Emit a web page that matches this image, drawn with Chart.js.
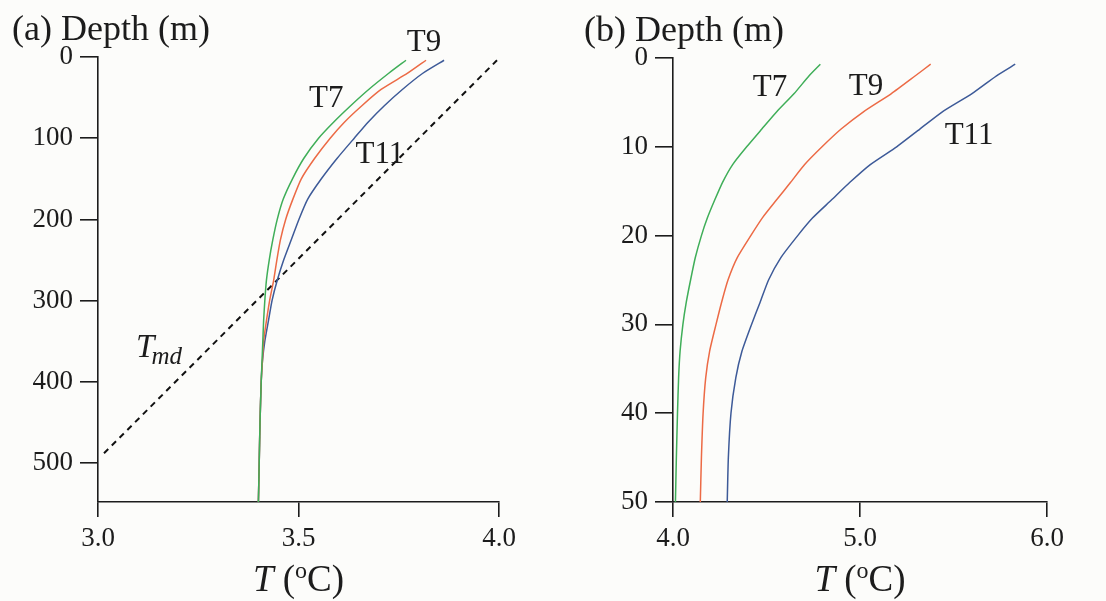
<!DOCTYPE html>
<html>
<head>
<meta charset="utf-8">
<title>Temperature profiles</title>
<script src="https://cdn.jsdelivr.net/npm/chart.js@4.4.1/dist/chart.umd.min.js"></script>
<style>
	html, body { margin: 0; padding: 0; background: #fcfcfa; }
	#wrap { position: relative; width: 1106px; height: 601px; overflow: hidden; }
	canvas { position: absolute; top: 0; }
	#chartA { left: 0; }
	#chartB { left: 540px; }
</style>
</head>
<body>
<div id="wrap">
	<canvas id="chartA" width="540" height="601"></canvas>
	<canvas id="chartB" width="566" height="601"></canvas>
</div>
<script>
// (a) whole column, depth in m
var depthA = [4, 20, 40, 60, 80, 100, 125, 150, 175, 200, 225, 250, 275, 300, 325, 350, 375, 400, 450, 500, 548];
var t7A = [3.768, 3.725, 3.675, 3.630, 3.588, 3.550, 3.513, 3.485, 3.462, 3.447, 3.436, 3.427, 3.420, 3.416, 3.413, 3.411, 3.409, 3.407, 3.404, 3.402, 3.400];
var t9A = [3.818, 3.772, 3.706, 3.658, 3.615, 3.579, 3.540, 3.507, 3.486, 3.468, 3.455, 3.446, 3.438, 3.428, 3.420, 3.413, 3.410, 3.407, 3.404, 3.402, 3.400];
var t11A = [3.863, 3.810, 3.759, 3.714, 3.674, 3.639, 3.596, 3.557, 3.523, 3.501, 3.482, 3.463, 3.447, 3.434, 3.425, 3.416, 3.410, 3.407, 3.404, 3.402, 3.400];
// temperature of maximum density line
var tmdT = [3.015, 3.995];
var tmdDepth = [488, 4];
var xTicksA = [3.0, 3.5, 4.0];
var yTicksA = [0, 100, 200, 300, 400, 500];

// (b) top 50 m
var depthB = [0.7, 2, 4, 6, 8, 10, 12, 14, 16, 18, 20, 22.5, 25, 27.5, 30, 33, 36, 40, 45, 50];
var t7B = [4.788, 4.728, 4.648, 4.557, 4.475, 4.394, 4.319, 4.265, 4.223, 4.184, 4.152, 4.119, 4.094, 4.071, 4.053, 4.038, 4.030, 4.024, 4.018, 4.013];
var t9B = [5.378, 5.296, 5.168, 5.022, 4.899, 4.797, 4.704, 4.629, 4.553, 4.478, 4.416, 4.343, 4.294, 4.260, 4.230, 4.196, 4.175, 4.161, 4.152, 4.146];
var t11B = [5.830, 5.730, 5.599, 5.444, 5.320, 5.196, 5.055, 4.946, 4.847, 4.747, 4.667, 4.576, 4.511, 4.466, 4.420, 4.369, 4.336, 4.310, 4.296, 4.290];
var xTicksB = [4.0, 5.0, 6.0];
var yTicksB = [0, 10, 20, 30, 40, 50];

var serif = '"Liberation Serif", "DejaVu Serif", serif';
var ink = "#1c1c1c";

function pts(xs, ys) {
	return xs.map(function (v, i) { return { x: v, y: ys[i] }; });
}

function curve(data, color) {
	return {
		data: data,
		showLine: true,
		borderColor: color,
		borderWidth: 1.5,
		pointRadius: 0,
		tension: 0.2,
		fill: false,
	};
}

// T (oC) with a raised o
function drawTempTitle(ctx, cx, baseline) {
	var parts = [
		{ t: "T", f: "italic 37px " + serif, dy: 0 },
		{ t: " (", f: "37px " + serif, dy: 0 },
		{ t: "o", f: "24px " + serif, dy: -13 },
		{ t: "C)", f: "37px " + serif, dy: 0 },
	];
	var w = 0;
	parts.forEach(function (p) { ctx.font = p.f; p.w = ctx.measureText(p.t).width; w += p.w; });
	var x = cx - w / 2;
	ctx.textAlign = "left";
	ctx.textBaseline = "alphabetic";
	parts.forEach(function (p) {
		ctx.font = p.f;
		ctx.fillText(p.t, x, baseline + p.dy);
		x += p.w;
	});
}

var textPlugin = {
	id: "textPlugin",
	afterDraw: function (chart, args, o) {
		var ctx = chart.ctx;
		var area = chart.chartArea;
		var xs = chart.scales.x, ys = chart.scales.y;
		ctx.save();
		ctx.fillStyle = ink;
		ctx.font = "36px " + serif;
		ctx.textAlign = "left";
		ctx.textBaseline = "alphabetic";
		ctx.fillText(o.title, area.left + o.titleDx, area.top - 17);

		drawTempTitle(ctx, (area.left + area.right) / 2, area.bottom + 89);

		ctx.font = "31px " + serif;
		ctx.textAlign = "center";
		ctx.textBaseline = "middle";
		o.labels.forEach(function (l) {
			ctx.fillText(l.text, xs.getPixelForValue(l.x), ys.getPixelForValue(l.y));
		});

		if (o.tmd) {
			var px = xs.getPixelForValue(o.tmd.x), py = ys.getPixelForValue(o.tmd.y);
			ctx.textAlign = "left";
			ctx.textBaseline = "alphabetic";
			ctx.font = "italic 33px " + serif;
			ctx.fillText("T", px, py);
			var tw = ctx.measureText("T").width;
			ctx.font = "italic 25px " + serif;
			ctx.fillText("md", px + tw - 3, py + 7);
		}
		ctx.restore();
	},
};

function axisX(min, max, ticks, height) {
	return {
		type: "linear",
		min: min,
		max: max,
		afterBuildTicks: function (s) { s.ticks = ticks.map(function (v) { return { value: v }; }); },
		afterFit: function (s) { s.height = height; },
		border: { display: true, color: ink, width: 1.6 },
		grid: { drawOnChartArea: false, drawTicks: true, tickLength: 15, color: ink, lineWidth: 1.6 },
		ticks: {
			color: ink,
			padding: 6,
			maxRotation: 0,
			font: { family: serif, size: 27 },
			callback: function (v) { return Number(v).toFixed(1); },
		},
	};
}

function axisY(max, ticks, width) {
	return {
		type: "linear",
		reverse: true,
		min: 0,
		max: max,
		afterBuildTicks: function (s) { s.ticks = ticks.map(function (v) { return { value: v }; }); },
		afterFit: function (s) { s.width = width; },
		border: { display: true, color: ink, width: 1.6 },
		grid: { drawOnChartArea: false, drawTicks: true, tickLength: 18, color: ink, lineWidth: 1.6 },
		ticks: {
			color: ink,
			padding: 7,
			font: { family: serif, size: 27 },
		},
	};
}

document.addEventListener("DOMContentLoaded", function () {
	var green = "#3fae58";
	var orange = "#ec6a45";
	var blue = "#3d5a98";

	var chartA = new Chart(document.getElementById("chartA").getContext("2d"), {
		type: "scatter",
		data: {
			datasets: [
				curve(pts(t7A, depthA), green),
				curve(pts(t9A, depthA), orange),
				curve(pts(t11A, depthA), blue),
				{
					data: pts(tmdT, tmdDepth),
					showLine: true,
					borderColor: "#111",
					borderWidth: 2,
					borderDash: [6, 5],
					pointRadius: 0,
				},
			],
		},
		options: {
			responsive: false,
			animation: false,
			layout: { padding: { left: 0, right: 41, top: 57, bottom: 0 } },
			scales: { x: axisX(3, 4, xTicksA, 99), y: axisY(548, yTicksA, 98) },
			plugins: {
				legend: { display: false },
				tooltip: { enabled: false },
				textPlugin: {
					title: "(a) Depth (m)",
					titleDx: -86,
					labels: [
						{ text: "T7", x: 3.569, y: 52 },
						{ text: "T9", x: 3.813, y: -18 },
						{ text: "T11", x: 3.703, y: 120 },
					],
					tmd: { x: 3.095, y: 370 },
				},
			},
		},
		plugins: [textPlugin],
	});

	var chartB = new Chart(document.getElementById("chartB").getContext("2d"), {
		type: "scatter",
		data: {
			datasets: [
				curve(pts(t7B, depthB), green),
				curve(pts(t9B, depthB), orange),
				curve(pts(t11B, depthB), blue),
			],
		},
		options: {
			responsive: false,
			animation: false,
			layout: { padding: { left: 0, right: 59, top: 58, bottom: 0 } },
			scales: { x: axisX(4, 6, xTicksB, 99), y: axisY(50, yTicksB, 133) },
			plugins: {
				legend: { display: false },
				tooltip: { enabled: false },
				textPlugin: {
					title: "(b) Depth (m)",
					titleDx: -89,
					labels: [
						{ text: "T7", x: 4.519, y: 3.4 },
						{ text: "T9", x: 5.032, y: 3.3 },
						{ text: "T11", x: 5.583, y: 8.8 },
					],
				},
			},
		},
		plugins: [textPlugin],
	});
});
</script>
</body>
</html>
